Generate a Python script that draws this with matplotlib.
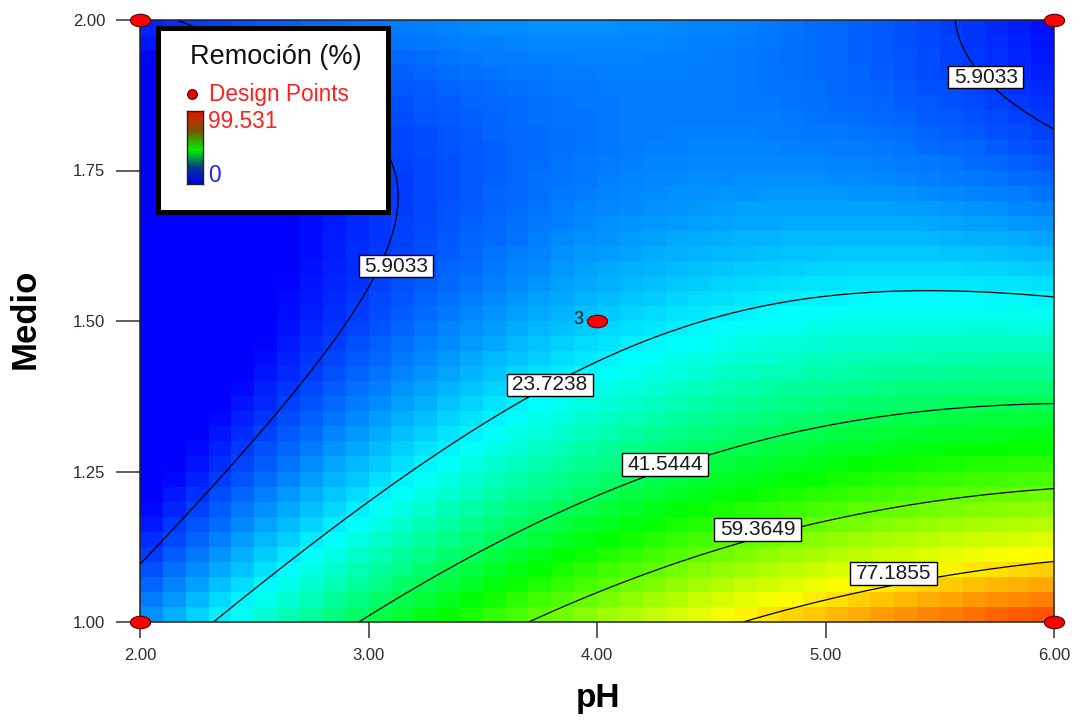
import numpy as np
import matplotlib
matplotlib.use("Agg")
import matplotlib.pyplot as plt
from matplotlib.colors import LinearSegmentedColormap, Normalize
from matplotlib.path import Path
from matplotlib.transforms import Affine2D

plt.rcParams['font.family'] = ['Liberation Sans', 'DejaVu Sans']

# Factor ranges
ph_range = [2.0, 6.0]
medio_range = [1.0, 2.0]

# Quadratic response model for Remoción (%) in coded units (A = pH, B = Medio)
coef_intercept = 19.9
coef_a = 19.2
coef_b = -25.6
coef_ab = -20.8
coef_a2 = -11.8
coef_b2 = 20.1

response_min = 0.0
response_max = 99.531

contour_levels = [5.9033, 23.7238, 41.5444, 59.3649, 77.1855]
# Where each contour value is written, and which contour it belongs to
label_level_index = [0, 0, 1, 2, 3, 4]
label_spots_ph = [3.120, 5.702, 3.794, 4.298, 4.702, 5.298]
label_spots_medio = [1.591, 1.905, 1.394, 1.262, 1.154, 1.081]

design_ph = [2.0, 2.0, 6.0, 6.0, 4.0]
design_medio = [1.0, 2.0, 1.0, 2.0, 1.5]
center_replicates = 3

ph_ticks = [2.0, 3.0, 4.0, 5.0, 6.0]
medio_ticks = [1.0, 1.25, 1.5, 1.75, 2.0]


def removal(ph, medio):
    a = (ph - np.mean(ph_range)) / (np.diff(ph_range)[0] / 2)
    b = (medio - np.mean(medio_range)) / (np.diff(medio_range)[0] / 2)
    return (coef_intercept + coef_a * a + coef_b * b + coef_ab * a * b
            + coef_a2 * a ** 2 + coef_b2 * b ** 2)


def label_box(x0, y0, width, height, mutation_size):
    """Rectangle a little wider than the text than it is tall."""
    px = 0.26 * mutation_size
    py = 0.085 * mutation_size
    verts = [(x0 - px, y0 - py), (x0 + width + px, y0 - py),
             (x0 + width + px, y0 + height + py), (x0 - px, y0 + height + py),
             (x0 - px, y0 - py)]
    codes = [Path.MOVETO, Path.LINETO, Path.LINETO, Path.LINETO, Path.CLOSEPOLY]
    return Path(verts, codes)


W, H = 1080, 720


def fx(px):
    return px / W


def fy(py):
    return 1 - py / H


fig = plt.figure(figsize=(10.8, 7.2), dpi=100)
ax = fig.add_axes([fx(140), fy(622), fx(1054) - fx(140), fy(20) - fy(622)])

surface_cmap = LinearSegmentedColormap.from_list(
    "surface",
    [(0.0, (0, 0, 1)), (0.25, (0, 1, 1)), (0.5, (0, 1, 0)),
     (0.75, (1, 1, 0)), (1.0, (1, 0, 0))])
norm = Normalize(vmin=response_min, vmax=response_max)

# Coarse shaded grid
n_cells = 40
ph_edges = np.linspace(ph_range[0], ph_range[1], n_cells + 1)
medio_edges = np.linspace(medio_range[0], medio_range[1], n_cells + 1)
ph_mid = 0.5 * (ph_edges[:-1] + ph_edges[1:])
medio_mid = 0.5 * (medio_edges[:-1] + medio_edges[1:])
PM, MM = np.meshgrid(ph_mid, medio_mid)
Z_cells = np.clip(removal(PM, MM), response_min, response_max)
ax.pcolormesh(ph_edges, medio_edges, Z_cells, cmap=surface_cmap, norm=norm,
              shading='flat', zorder=1)

# Smooth contour lines
ph_fine = np.linspace(ph_range[0], ph_range[1], 400)
medio_fine = np.linspace(medio_range[0], medio_range[1], 400)
PF, MF = np.meshgrid(ph_fine, medio_fine)
ZF = removal(PF, MF)
ax.contour(PF, MF, ZF, levels=contour_levels, colors='black',
           linewidths=0.9, zorder=2)

# Boxed contour values
for idx, xp, yp in zip(label_level_index, label_spots_ph, label_spots_medio):
    ax.text(xp, yp, f"{contour_levels[idx]:.4f}", ha='center', va='center',
            fontsize=15, color='#1a1a1a', zorder=4,
            bbox=dict(boxstyle=label_box, fc='white', ec='black', lw=1.0))

# Design points (elliptical markers)
ellipse = Path.unit_circle().transformed(Affine2D().scale(1.0, 0.62))
ax.plot(design_ph, design_medio, linestyle='none', marker=ellipse,
        markersize=14.5, markerfacecolor='#ff0000', markeredgecolor='#500000',
        markeredgewidth=0.8, clip_on=False, zorder=6)
ax.annotate(str(center_replicates), xy=(design_ph[4], design_medio[4]),
            xytext=(-19, 1), textcoords='offset pixels', ha='center',
            va='center', fontsize=13, color='#111111', zorder=6)

ax.set_xlim(ph_range)
ax.set_ylim(medio_range)
ax.set_xticks(ph_ticks)
ax.set_yticks(medio_ticks)
ax.set_xticklabels([f"{v:.2f}" for v in ph_ticks])
ax.set_yticklabels([f"{v:.2f}" for v in medio_ticks])
ax.tick_params(axis='x', direction='out', length=11.5, width=1.1,
               color='#333333', labelsize=12, labelcolor='#2a2d3a', pad=7)
ax.tick_params(axis='y', direction='out', length=17, width=1.1,
               color='#333333', labelsize=12, labelcolor='#2a2d3a', pad=8)
for s in ax.spines.values():
    s.set_linewidth(1.1)
    s.set_color('#222222')

fig.text(fx(598), fy(699), "pH", ha='center', va='center', fontsize=24,
         fontweight='bold', color='black')
fig.text(fx(25), fy(319), "Medio", ha='center', va='center', fontsize=25,
         fontweight='bold', color='black', rotation=90)

# Legend box
lg = fig.add_axes([fx(158), fy(212), fx(388) - fx(158), fy(28) - fy(212)],
                  zorder=10)
lg.set_facecolor('white')
lg.set_xticks([])
lg.set_yticks([])
for s in lg.spines.values():
    s.set_linewidth(3.6)
    s.set_color('black')

fig.text(fx(276), fy(57), "Remoción (%)", ha='center', va='center',
         fontsize=19.5, color='#111111', zorder=11)
fig.text(fx(209), fy(94), "Design Points", ha='left', va='center',
         fontsize=16.3, color='#ff2020', zorder=11)
fig.text(fx(208), fy(122), f"{response_max:g}", ha='left', va='center',
         fontsize=16.3, color='#ff2020', zorder=11)
fig.text(fx(208), fy(175), f"{response_min:g}", ha='left', va='center',
         fontsize=16.3, color='#2020ff', zorder=11)
fig.lines.append(plt.Line2D([fx(192)], [fy(94)], transform=fig.transFigure,
                            marker='o', markersize=7, markerfacecolor='#ff0000',
                            markeredgecolor='#400000', markeredgewidth=0.8,
                            linestyle='none', zorder=12))

bar_cmap = LinearSegmentedColormap.from_list(
    "legendbar",
    [(0.0, (0.0, 0.0, 0.92)), (0.22, (0.0, 0.22, 0.55)), (0.47, (0.0, 0.95, 0.0)),
     (0.72, (0.45, 0.35, 0.0)), (1.0, (0.92, 0.08, 0.0))])
bar = fig.add_axes([fx(187), fy(184), fx(203) - fx(187), fy(111) - fy(184)],
                   zorder=12)
bar.imshow(np.linspace(0, 1, 200)[:, None], cmap=bar_cmap, aspect='auto',
           origin='lower')
bar.set_xticks([])
bar.set_yticks([])
for s in bar.spines.values():
    s.set_linewidth(1.0)
    s.set_color('#222222')

fig.savefig("out.png", dpi=100)
